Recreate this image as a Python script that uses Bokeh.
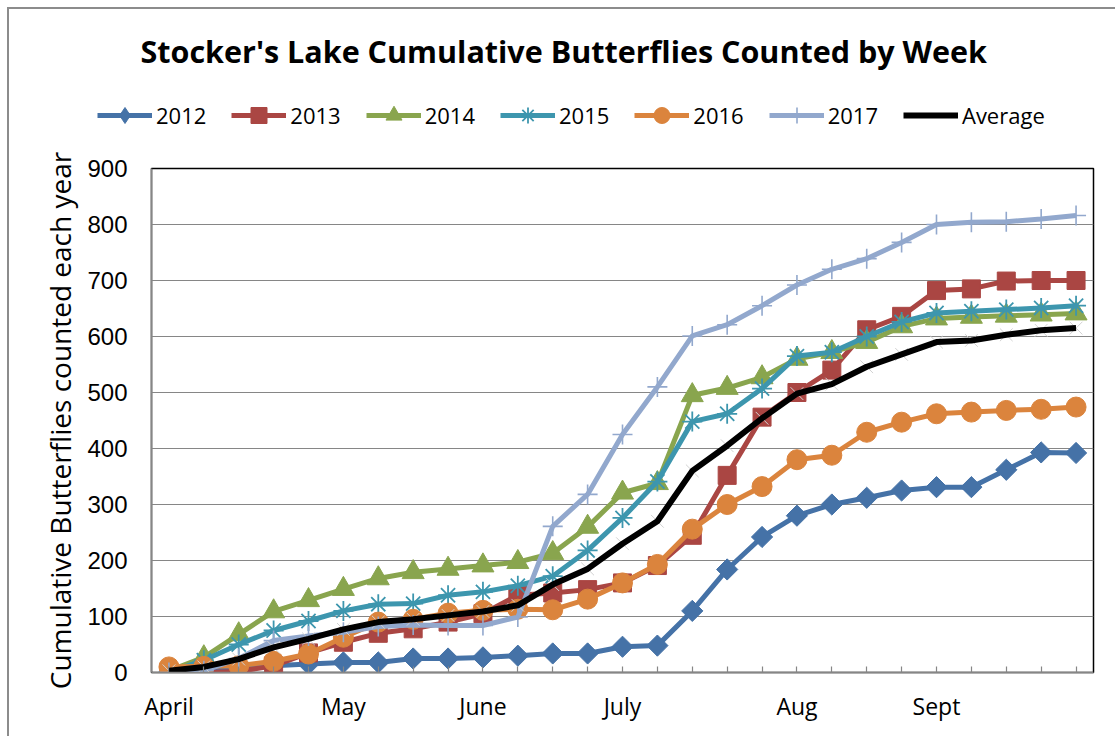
import numpy as np
from bokeh.plotting import figure
from bokeh.layouts import column
from bokeh.models import (Legend, LegendItem, FixedTicker, Range1d, Label)
from bokeh.embed import file_html
from bokeh.resources import INLINE

# ---------------- data ----------------
weeks = list(range(27))
month_labels = {0: "April", 5: "May", 9: "June", 13: "July", 18: "Aug", 22: "Sept"}
y_ticks = [0, 100, 200, 300, 400, 500, 600, 700, 800, 900]

s2012 = [0, 3, 7, 12, 15, 18, 18, 25, 25, 27, 30, 34, 34, 46, 48, 110, 184, 242, 280, 300, 312, 325, 331, 331, 362, 393, 392]
s2013 = [0, 0, 2, 12, 35, 54, 70, 78, 90, 105, 138, 142, 148, 160, 191, 245, 352, 456, 500, 540, 612, 636, 682, 685, 699, 700, 700]
s2014 = [3, 27, 68, 109, 129, 149, 168, 179, 185, 191, 197, 213, 260, 321, 338, 495, 508, 527, 560, 572, 590, 618, 632, 635, 637, 639, 641]
s2015 = [0, 22, 50, 75, 92, 110, 122, 123, 138, 144, 155, 172, 218, 276, 341, 448, 462, 507, 565, 572, 600, 626, 642, 645, 648, 651, 655]
s2016 = [10, 11, 12, 20, 33, 63, 90, 95, 106, 111, 113, 112, 131, 160, 193, 256, 300, 332, 380, 388, 429, 447, 462, 465, 468, 470, 474]
s2017 = [0, 3, 25, 57, 65, 72, 82, 85, 84, 84, 99, 261, 318, 425, 510, 601, 621, 655, 692, 720, 739, 768, 800, 804, 805, 810, 816]
average = [3, 10, 24, 45, 60, 77, 90, 95, 102, 109, 120, 157, 185, 230, 270, 360, 405, 454, 498, 515, 546, 568, 590, 593, 603, 611, 615]

series_names = ["2012", "2013", "2014", "2015", "2016", "2017", "Average"]
title_text = "Stocker's Lake Cumulative Butterflies Counted by Week"

CAL = "Open Sans"
W = 1106
TOP_H = 143
BOT_H = 584

marker_styles = [
    ("#4572A7", dict(marker="square", size=15, angle=np.pi / 4)),
    ("#AA4643", dict(marker="square", size=18)),
    ("#89A54E", dict(marker="triangle", size=22)),
    ("#3D96AE", dict(marker="asterisk", size=20, line_width=1.8, fill_alpha=0)),
    ("#DB843D", dict(marker="circle", size=20)),
    ("#92A8CD", dict(marker="cross", size=20, line_width=1.6, fill_alpha=0)),
]
series_values = [s2012, s2013, s2014, s2015, s2016, s2017]

# ---------------- header figure (title + legend) ----------------
top = figure(width=W, height=TOP_H, output_backend="svg", toolbar_location=None,
             x_range=Range1d(0, W), y_range=Range1d(0, TOP_H),
             min_border=0, x_axis_type=None, y_axis_type=None)
top.frame_align = False
top.grid.visible = False
top.outline_line_color = None
top.background_fill_color = "white"
top.border_fill_color = "white"

top.add_layout(Label(x=131, y=TOP_H - 41, text=title_text, text_font=CAL,
                     text_font_size="30.5px", text_font_style="bold",
                     text_align="left", text_baseline="middle", text_color="black"))

items = []
nan = [np.nan]
for (color, mk), name in zip(marker_styles, series_names[:6]):
    kw = dict(mk)
    lw = kw.pop("line_width", 1)
    if kw.get("angle"):
        kw.pop("angle")
        kw["marker"] = "diamond"
    rl = top.line(nan, nan, line_color=color, line_width=5)
    rm = top.scatter(nan, nan, fill_color=color, line_color=color, line_width=lw, **kw)
    items.append(LegendItem(label=name, renderers=[rl, rm]))
ra = top.line(nan, nan, line_color="black", line_width=6)
items.append(LegendItem(label="Average", renderers=[ra]))

legend = Legend(items=items, orientation="horizontal", location=(88, 17),
                glyph_width=55, glyph_height=40, label_width=50, label_height=40,
                label_standoff=4, spacing=25, padding=0, margin=0,
                label_text_font=CAL, label_text_font_size="22px",
                label_text_color="black",
                border_line_alpha=0, background_fill_alpha=0)
top.add_layout(legend, "center")

# ---------------- chart figure ----------------
p = figure(width=W, height=BOT_H, output_backend="svg", toolbar_location=None,
           x_range=Range1d(-0.5, 26.5), y_range=Range1d(0, 900),
           min_border_left=142, min_border_right=22, min_border_top=16,
           min_border_bottom=64)
p.frame_align = False
p.background_fill_color = "white"
p.border_fill_color = "white"
p.outline_line_color = "black"
p.outline_line_width = 1.5

p.xaxis.ticker = FixedTicker(ticks=weeks)
p.xaxis.major_label_overrides = {i: month_labels.get(i, "") for i in weeks}
p.xaxis.major_label_text_font = CAL
p.xaxis.major_label_text_font_size = "23px"
p.xaxis.major_label_text_color = "black"
p.xaxis.major_label_standoff = 17
p.xaxis.major_tick_in = 6
p.xaxis.major_tick_out = 0
p.xaxis.minor_tick_line_color = None
p.xaxis.axis_line_color = "#868686"
p.xaxis.axis_line_width = 1.5
p.xaxis.major_tick_line_color = "#868686"
p.xaxis.major_tick_line_width = 1.2

p.yaxis.ticker = FixedTicker(ticks=y_ticks)
p.yaxis.major_label_text_font = "Liberation Sans"
p.yaxis.major_label_text_font_size = "24px"
p.yaxis.major_label_text_color = "black"
p.yaxis.major_label_standoff = 24
p.yaxis.major_tick_in = 0
p.yaxis.major_tick_out = 0
p.yaxis.minor_tick_line_color = None
p.yaxis.axis_line_color = "#868686"
p.yaxis.axis_line_width = 1.5
p.yaxis.axis_label = "Cumulative Butterflies counted each year"
p.yaxis.axis_label_text_font = CAL
p.yaxis.axis_label_text_font_size = "28px"
p.yaxis.axis_label_text_font_style = "normal"
p.yaxis.axis_label_text_color = "black"
p.yaxis.axis_label_standoff = 5

p.xgrid.grid_line_color = None
p.ygrid.grid_line_color = "#868686"
p.ygrid.grid_line_width = 1.2

for vals, (color, mk) in zip(series_values, marker_styles):
    kw = dict(mk)
    lw = kw.pop("line_width", 1)
    p.line(weeks, vals, line_color=color, line_width=5)
    p.scatter(weeks, vals, fill_color=color, line_color=color, line_width=lw, **kw)

p.scatter(weeks, average, marker="x", size=18, line_color="#d2d2d2", line_width=1)
p.line(weeks, average, line_color="black", line_width=6)

layout = column(top, p, spacing=0)
layout.styles = {"border-left": "2px solid #8c8c8c", "border-top": "2px solid #8c8c8c",
                 "margin-left": "7px", "margin-top": "7px"}

open("out.html", "w").write(file_html(layout, INLINE))
